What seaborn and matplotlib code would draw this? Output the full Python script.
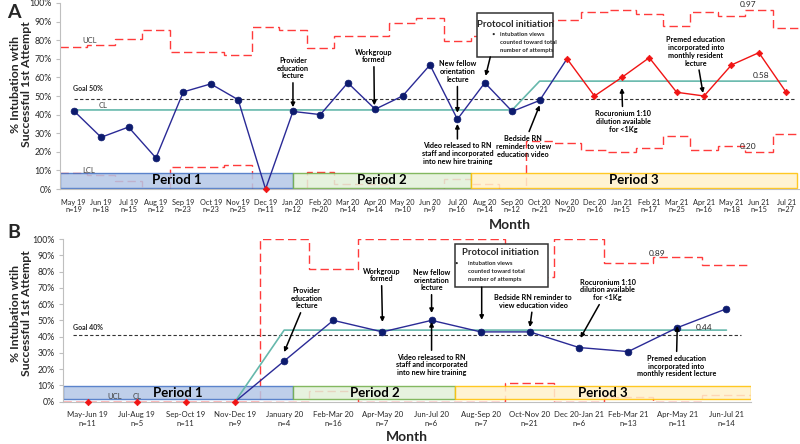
import numpy as np
import matplotlib
matplotlib.use('Agg')
import matplotlib.pyplot as plt
import seaborn as sns
from matplotlib.patches import Rectangle

sns.set_theme(style="white")
plt.rcParams['font.family'] = ['Lato', 'DejaVu Sans']

# ---------------------------------------------------------------------------
# Datos panel A (mensual)
# ---------------------------------------------------------------------------
months_a = ['May 19', 'Jun 19', 'Jul 19', 'Aug 19', 'Sep 19', 'Oct 19', 'Nov 19',
            'Dec 19', 'Jan 20', 'Feb 20', 'Mar 20', 'Apr 20', 'May 20', 'Jun 20',
            'Jul 20', 'Aug 20', 'Sep 20', 'Oct 20', 'Nov 20', 'Dec 20', 'Jan 21',
            'Feb 21', 'Mar 21', 'Apr 21', 'May 21', 'Jun 21', 'Jul 21']
n_a = [19, 18, 15, 12, 23, 23, 25, 11, 12, 20, 14, 14, 10, 9, 16, 14, 12, 21,
       20, 16, 15, 17, 25, 16, 18, 15, 27]
pct_a = [42.1, 27.8, 33.3, 16.7, 52.2, 56.5, 48.0, 0.0, 41.7, 40.0, 57.1, 42.9,
         50.0, 66.7, 37.5, 57.1, 41.7, 47.6, 70.0, 50.0, 60.0, 70.6, 52.0, 50.0,
         66.7, 73.3, 51.9]
cl_a = [42.5, 42.5, 42.5, 42.5, 42.5, 42.5, 42.5, 42.5, 42.5, 42.5, 42.5, 42.5,
        42.5, 42.5, 42.5, 42.5, 42.5, 58, 58, 58, 58, 58, 58, 58, 58, 58, 58]
ucl_a = [76.5, 77.5, 80.8, 85.3, 73.4, 73.4, 72.2, 87.2, 85.3, 75.7, 82.1, 82.1,
         89.4, 91.9, 79.6, 82.1, 85.3, 90.3, 91.1, 95.0, 96.2, 93.9, 87.6, 95.0,
         92.9, 96.2, 86.5]
lcl_a = [8.5, 7.5, 4.2, 0, 11.6, 11.6, 12.8, 0, 0, 9.3, 2.9, 2.9, 0, 0, 5.4,
         2.9, 0, 25.7, 24.9, 21.0, 19.8, 22.1, 28.4, 21.0, 23.1, 19.8, 29.5]
goal_a = 48.5
red_a = [7, 18, 19, 20, 21, 22, 23, 24, 25, 26]   # puntos fuera de control / shift

# ---------------------------------------------------------------------------
# Datos panel B (bimestral)
# ---------------------------------------------------------------------------
months_b = ['May-Jun 19', 'Jul-Aug 19', 'Sep-Oct 19', 'Nov-Dec 19', 'January 20',
            'Feb-Mar 20', 'Apr-May 20', 'Jun-Jul 20', 'Aug-Sep 20', 'Oct-Nov 20',
            'Dec 20-Jan 21', 'Feb-Mar 21', 'Apr-May 21', 'Jun-Jul 21']
n_b = [11, 5, 11, 9, 4, 16, 7, 6, 7, 21, 6, 13, 11, 14]
pct_b = [0, 0, 0, 0, 25.0, 50.0, 42.9, 50.0, 42.9, 42.9, 33.3, 30.8, 45.5, 57.1]
cl_b = [0, 0, 0, 0, 44, 44, 44, 44, 44, 44, 44, 44, 44, 44]
ucl_b = [0, 0, 0, 0, 100, 81.5, 100, 100, 100, 76.5, 100, 85.3, 88.9, 83.8]
lcl_b = [0, 0, 0, 0, 0, 6.8, 0, 0, 0, 11.5, 0, 2.7, 0, 4.2]
goal_b = 41
red_b = [0, 1, 2, 3]

BLUE_LINE = '#2a2a96'
BLUE_PT = '#0d1b6e'
RED = '#f01414'
LIMIT = '#ff3b3b'
TEAL = '#66b8ac'
GREY = '#bfbfbf'
TXT = '#262626'

fig = plt.figure(figsize=(8, 4.44), dpi=100)
ax_a = fig.add_axes([60 / 800, 1 - 189 / 444, 740 / 800, 186 / 444])
ax_b = fig.add_axes([63 / 800, 1 - 401.7 / 444, 688 / 800, 162.7 / 444])

arrow = dict(arrowstyle='-|>', color='black', lw=1.1, mutation_scale=6,
             shrinkA=0, shrinkB=0)


def base_axes(ax, months, ns, linesp, fs):
    n = len(months)
    ax.set_xlim(-0.5, n - 0.5)
    ax.set_ylim(0, 100)
    ax.set_yticks(np.arange(0, 101, 10))
    ax.set_yticklabels([f'{v}%' for v in range(0, 101, 10)], fontsize=6.3, color=TXT)
    ax.set_xticks(np.arange(n))
    ax.set_xticklabels([f'{m}\nn={k}' for m, k in zip(months, ns)],
                       fontsize=fs, color=TXT)
    for lab in ax.get_xticklabels():
        lab.set_linespacing(linesp)
    ax.set_xticks(np.arange(n + 1) - 0.5, minor=True)
    ax.tick_params(axis='x', which='major', length=0, pad=7)
    ax.tick_params(axis='x', which='minor', length=3, color=GREY, width=0.8)
    ax.tick_params(axis='y', length=3, color=GREY, width=0.8, pad=3, left=True)
    for s in ['top', 'right']:
        ax.spines[s].set_visible(False)
    for s in ['left', 'bottom']:
        ax.spines[s].set_color(GREY)
        ax.spines[s].set_linewidth(0.8)
    ax.set_xlabel('')
    ax.set_ylabel('')


def limits(ax, ucl, lcl):
    edges = np.arange(len(ucl) + 1) - 0.5
    for lim in (ucl, lcl):
        ax.stairs(lim, edges, baseline=None, edgecolor=LIMIT, linewidth=1.0,
                  linestyle=(0, (6, 3)), zorder=1)


def periods(ax, spans, y0, y1, names):
    styles = [('#b4c7e7', '#4472c4'), ('#e2f0d9', '#70ad47'), ('#fff2cc', '#ffc000')]
    for (a, b), (fc, ec), name in zip(spans, styles, names):
        ax.add_patch(Rectangle((a, y0), b - a, y1 - y0, facecolor=fc, edgecolor=ec,
                               linewidth=1.0, alpha=0.85, zorder=2))
        ax.text((a + b) / 2, (y0 + y1) / 2, name, ha='center', va='center',
                fontsize=9.5, fontweight='bold', color='black', zorder=3)


def note(ax, text, xy, xytext, size=5.2):
    ax.annotate(text, xy=xy, xytext=xytext, ha='center', va='center',
                fontsize=size, fontweight='bold', color='black',
                arrowprops=arrow, zorder=6, linespacing=1.15)


def protocol(ax, x0, x1, y0, y1, tx, ty, bx, by, dy, size_t, size_b):
    ax.add_patch(Rectangle((x0, y0), x1 - x0, y1 - y0, facecolor='white',
                           edgecolor='#333333', linewidth=1.1, zorder=6))
    ax.text(tx, ty, 'Protocol initiation', ha='center', va='center',
            fontsize=size_t, fontweight='bold', zorder=7)
    ax.text(bx - 0.25, by, '•', ha='center', va='center', fontsize=size_b, zorder=7)
    for k, line in enumerate(['intubation views', 'counted toward total',
                              'number of attempts']):
        ax.text(bx, by - k * dy, line, ha='left', va='center', fontsize=size_b,
                fontweight='bold', zorder=7)


# ---------------------------------------------------------------------------
# Panel A
# ---------------------------------------------------------------------------
ax = ax_a
xa = np.arange(len(months_a))
base_axes(ax, months_a, n_a, 1.0, 5.3)
limits(ax, ucl_a, lcl_a)
periods(ax, [(-0.5, 8.0), (8.0, 14.5), (14.5, 26.4)], 0.5, 8.7,
        ['Period 1', 'Period 2', 'Period 3'])
ax.hlines(goal_a, 0, 26.3, colors='#333333', linestyles=(0, (3, 2)), linewidth=0.8, zorder=3)
sns.lineplot(x=xa, y=cl_a, ax=ax, color=TEAL, linewidth=1.2, zorder=3)
sns.lineplot(x=xa[:19], y=pct_a[:19], ax=ax, color=BLUE_LINE, linewidth=1.0, zorder=4)
sns.lineplot(x=xa[18:], y=pct_a[18:], ax=ax, color=RED, linewidth=1.0, zorder=4)
blue_idx = [i for i in xa if i not in red_a]
sns.scatterplot(x=blue_idx, y=[pct_a[i] for i in blue_idx], ax=ax, color=BLUE_PT,
                s=24, edgecolor=BLUE_PT, linewidth=0.5, zorder=5, clip_on=False)
sns.scatterplot(x=red_a, y=[pct_a[i] for i in red_a], ax=ax, color=RED, marker='D',
                s=11, edgecolor=RED, linewidth=0.5, zorder=5, clip_on=False)

ax.text(0.58, 80, 'UCL', fontsize=5.5, color='#404040', ha='center', va='center')
ax.text(1.06, 45, 'CL', fontsize=5.5, color='#404040', ha='center', va='center')
ax.text(0.55, 9.7, 'LCL', fontsize=5.5, color='#404040', ha='center', va='center')
ax.text(0.51, 53.8, 'Goal 50%', fontsize=5, fontweight='bold', color=TXT,
        ha='center', va='center')
ax.text(24.6, 99, '0.97', fontsize=6, color=TXT, ha='center', va='center')
ax.text(25.07, 60.8, '0.58', fontsize=6, color=TXT, ha='center', va='center')
ax.text(24.6, 22.6, '0.20', fontsize=6, color=TXT, ha='center', va='center')

note(ax, 'Provider\neducation\nlecture', (8, 44), (8, 65))
note(ax, 'Workgroup\nformed', (10.97, 45), (10.95, 71.5))
note(ax, 'New fellow\norientation\nlecture', (14, 41), (14, 63))
note(ax, 'Video released to RN\nstaff and incorporated\ninto new hire training',
     (14, 35), (14, 19))
note(ax, 'Bedside RN\nreminder to view\neducation video', (17, 45), (16.4, 23))
note(ax, 'Rocuronium 1:10\ndilution available\nfor <1Kg', (20, 54.3), (20.04, 36.5))
note(ax, 'Premed education\nincorporated into\nmonthly resident\nlecture',
     (22.96, 51.6), (22.7, 74))
protocol(ax, 14.7, 17.5, 71, 94.6, 16.1, 88.7, 15.55, 83.3, 4.3, 6.8, 4.3)
ax.annotate('', xy=(15.03, 60.8), xytext=(15.2, 71), arrowprops=arrow, zorder=6)

ax.text(15.9, -19.5, 'Month', fontsize=10, fontweight='bold', ha='center',
        va='center', clip_on=False)

# ---------------------------------------------------------------------------
# Panel B
# ---------------------------------------------------------------------------
ax = ax_b
xb = np.arange(len(months_b))
base_axes(ax, months_b, n_b, 1.25, 5.6)
limits(ax, ucl_b, lcl_b)
periods(ax, [(-0.5, 4.19), (4.19, 7.48), (7.48, 13.5)], 1.5, 9.8,
        ['Period 1', 'Period 2', 'Period 3'])
ax.hlines(goal_b, -0.3, 13.3, colors='#333333', linestyles=(0, (3, 2)), linewidth=0.8, zorder=3)
sns.lineplot(x=xb[3:], y=cl_b[3:], ax=ax, color=TEAL, linewidth=1.2, zorder=3)
sns.lineplot(x=xb[3:], y=pct_b[3:], ax=ax, color=BLUE_LINE, linewidth=1.0, zorder=4)
blue_b = [i for i in xb if i not in red_b]
sns.scatterplot(x=blue_b, y=[pct_b[i] for i in blue_b], ax=ax, color=BLUE_PT,
                s=24, edgecolor=BLUE_PT, linewidth=0.5, zorder=5, clip_on=False)
sns.scatterplot(x=red_b, y=[pct_b[i] for i in red_b], ax=ax, color=RED, marker='D',
                s=11, edgecolor=RED, linewidth=0.5, zorder=5, clip_on=False)

ax.text(0.55, 2.9, 'UCL', fontsize=5.5, color='#404040', ha='center', va='center', zorder=4)
ax.text(1.0, 2.9, 'CL', fontsize=5.5, color='#404040', ha='center', va='center', zorder=4)
ax.text(0.0, 45.9, 'Goal 40%', fontsize=5, fontweight='bold', color=TXT,
        ha='center', va='center')
ax.text(11.58, 91.3, '0.89', fontsize=6, color=TXT, ha='center', va='center')
ax.text(12.55, 45.9, '0.44', fontsize=6, color=TXT, ha='center', va='center')

note(ax, 'Provider\neducation\nlecture', (4.0, 30.5), (4.46, 63.7))
note(ax, 'Workgroup\nformed', (6.0, 49), (5.98, 77.9))
note(ax, 'New fellow\norientation\nlecture', (7.0, 54.5), (7.0, 74.8))
note(ax, 'Video released to RN\nstaff and incorporated\ninto new hire training',
     (7.0, 49), (7.0, 22.6))
note(ax, 'Bedside RN reminder to\nview education video', (9.0, 45.9), (9.07, 61.6))
note(ax, 'Rocuronium 1:10\ndilution available\nfor <1Kg', (10.03, 39.2), (10.58, 68.7))
note(ax, 'Premed education\nincorporated into\nmonthly resident lecture',
     (12.0, 46.5), (11.98, 21.9))
protocol(ax, 7.47, 9.36, 70.4, 96.9, 8.4, 91.4, 7.75, 85.2, 4.9, 6.8, 4.3)
ax.annotate('', xy=(8.02, 50.3), xytext=(8.02, 70.4), arrowprops=arrow, zorder=6)

ax.text(6.5, -22, 'Month', fontsize=10, fontweight='bold', ha='center',
        va='center', clip_on=False)

# Etiquetas del eje Y y letras de panel
ylab = '% Intubation wtih\nSuccessful 1st Attempt'
fig.text(21 / 800, 1 - 84 / 444, ylab, rotation=90, ha='center', va='center',
         fontsize=8.8, fontweight='bold', linespacing=1.0)
fig.text(21 / 800, 1 - 313 / 444, ylab, rotation=90, ha='center', va='center',
         fontsize=8.8, fontweight='bold', linespacing=1.0)
fig.text(14 / 800, 1 - 12 / 444, 'A', ha='center', va='center', fontsize=14,
         fontweight='bold')
fig.text(14 / 800, 1 - 232 / 444, 'B', ha='center', va='center', fontsize=14,
         fontweight='bold')

fig.savefig('out.png', dpi=100)
